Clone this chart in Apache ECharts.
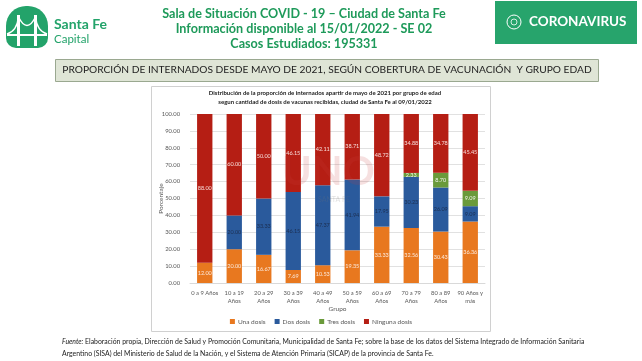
<!DOCTYPE html>
<html><head><meta charset="utf-8">
<script src="https://cdn.jsdelivr.net/npm/echarts@6/dist/echarts.min.js"></script>
<style>html,body{margin:0;padding:0;background:#fff}#c{width:642px;height:361px}</style>
</head><body><div id="c"></div>
<script>
const categories = ['0 a 9 Años','10 a 19\nAños','20 a 29\nAños','30 a 39\nAños','40 a 49\nAños','50 a 59\nAños','60 a 69\nAños','70 a 79\nAños','80 a 89\nAños','90 Años y\nmás'];
const unaDosis = [12.00,20.00,16.67,7.69,10.53,19.35,33.33,32.56,30.43,36.36];
const dosDosis = [0,20.00,33.33,46.15,47.37,41.94,17.95,30.23,26.09,9.09];
const tresDosis = [0,0,0,0,0,0,0,2.33,8.70,9.09];
const ningunaDosis = [88.00,60.00,50.00,46.15,42.11,38.71,48.72,34.88,34.78,45.45];
const seriesNames = ['Una dosis','Dos dosis','Tres dosis','Ninguna dosis'];
const yTicks = [0,10,20,30,40,50,60,70,80,90,100];

const green = '#23a36a';
const F = 'Lato, "Open Sans", sans-serif';
const chart = echarts.init(document.getElementById('c'));
const lbl = (color) => ({show:true, position:'inside', fontSize:5.5, fontFamily:F, color:color,
  formatter: p => p.value ? p.value.toFixed(2) : ''});
const colors = ['#e8781f','#2a5a9c','#6a9a3a','#b51e14'];
const datas = [unaDosis,dosDosis,tresDosis,ningunaDosis];
const labelColors = ['#fbe9dc','#1c2f52','#f3f7ee','#f6dcd9'];

chart.setOption({
  animation:false,
  title:{text:'Distribución de la proporción de internados apartir de mayo de 2021 por grupo de edad\nsegun cantidad de dosis de vacunas recibidas, ciudad de Santa Fe al 09/01/2022',
    left:320, top:84, textAlign:'center',
    textStyle:{fontSize:6, fontWeight:'bold', fontFamily:F, color:'#222', lineHeight:9}},
  grid:{left:190, right:157, top:114, bottom:78},
  legend:{data:seriesNames, bottom:31, left:'center', itemWidth:5, itemHeight:5, itemGap:9, icon:'rect',
    textStyle:{fontSize:6.5, fontFamily:F, color:'#595959', padding:[0,0,0,-2]}},
  xAxis:{type:'category', data:categories, name:'Grupo', nameLocation:'middle', nameGap:22,
    nameTextStyle:{fontSize:6.5, fontFamily:F, color:'#595959'},
    axisLine:{lineStyle:{color:'#d9d9d9'}}, axisTick:{show:false},
    axisLabel:{fontSize:5.8, fontFamily:F, color:'#595959', lineHeight:8, interval:0, margin:6}},
  yAxis:{type:'value', min:0, max:100, interval:10, name:'Porcentaje', nameLocation:'middle', nameGap:26, nameMoveOverlap:false,
    nameTextStyle:{fontSize:6.5, fontFamily:F, color:'#595959'},
    splitLine:{lineStyle:{color:'#d9d9d9', width:0.8}}, axisLine:{show:false},
    axisLabel:{fontSize:5.8, fontFamily:F, color:'#595959', formatter:v=>v.toFixed(2), margin:10}},
  series: seriesNames.map((n,i)=>({name:n, type:'bar', stack:'t', data:datas[i], barWidth:'52%',
    itemStyle:{color:colors[i]}, label:lbl(labelColors[i])})),
  graphic:[
    {type:'rect', z:-1, shape:{x:151.5,y:86.5,width:339,height:245}, style:{fill:'#fff', stroke:'#d0d0d0', lineWidth:1}},
    {type:'text', z:5, x:282, y:152, style:{text:'UNO', font:'bold 40px '+F, fill:'rgba(200,60,60,0.16)'}},
    {type:'text', z:5, x:318, y:196, style:{text:'SANTA FE', font:'7px '+F, fill:'rgba(120,120,120,0.22)'}},
    // header logo
    {type:'rect', shape:{x:6,y:6,width:42,height:42,r:[20,20,10,10]}, style:{fill:green}},
    {type:'rect', shape:{x:17,y:15,width:3,height:31}, style:{fill:'#fff'}},
    {type:'rect', shape:{x:34,y:15,width:3,height:31}, style:{fill:'#fff'}},
    {type:'bezierCurve', shape:{x1:18.5,y1:17,x2:35.5,y2:17,cpx1:27,cpy1:34}, style:{stroke:'#fff', fill:null, lineWidth:1.5}},
    {type:'bezierCurve', shape:{x1:7,y1:34,x2:18.5,y2:17,cpx1:17,cpy1:31}, style:{stroke:'#fff', fill:null, lineWidth:1.5}},
    {type:'bezierCurve', shape:{x1:35.5,y1:17,x2:47,y2:34,cpx1:37,cpy1:31}, style:{stroke:'#fff', fill:null, lineWidth:1.5}},
    {type:'rect', shape:{x:7,y:34,width:40,height:2}, style:{fill:'#fff'}},
    {type:'text', x:54, y:17, style:{text:'Santa Fe', font:'bold 14px '+F, fill:green}},
    {type:'text', x:54, y:33, style:{text:'Capital', font:'11.5px '+F, fill:green}},
    // header title
    {type:'text', x:304, y:6, style:{text:'Sala de Situación COVID - 19 – Ciudad de Santa Fe\nInformación disponible al 15/01/2022 - SE 02\nCasos Estudiados: 195331',
      font:'bold 12.6px '+F, fill:'#1e9a5a', align:'center', lineHeight:15}},
    // coronavirus badge
    {type:'rect', shape:{x:495,y:1,width:142,height:43}, style:{fill:'#27a46c'}},
    {type:'circle', shape:{cx:514,cy:22,r:7}, style:{fill:null, stroke:'#fff', lineWidth:1}},
    {type:'circle', shape:{cx:514,cy:22,r:3}, style:{fill:null, stroke:'#fff', lineWidth:0.8}},
    {type:'text', x:529, y:15, style:{text:'CORONAVIRUS', font:'bold 13.5px '+F, fill:'#fff'}},
    // section bar
    {type:'rect', shape:{x:55.5,y:59.5,width:543,height:22}, style:{fill:'#dfe5d6', stroke:'#9aa890', lineWidth:1}},
    {type:'text', x:327, y:64.5, style:{text:'PROPORCIÓN DE INTERNADOS DESDE MAYO DE 2021, SEGÚN COBERTURA DE VACUNACIÓN  Y GRUPO EDAD',
      font:'10.2px '+F, fill:'#222', align:'center'}},
    // footnote
    {type:'text', x:62, y:336, style:{
      text:'{i|Fuente:} Elaboración propia, Dirección de Salud y Promoción Comunitaria, Municipalidad de Santa Fe; sobre la base de los datos del Sistema Integrado de Información Sanitaria\nArgentino (SISA) del Ministerio de Salud de la Nación, y el Sistema de Atención Primaria (SICAP) de la provincia de Santa Fe.',
      font:'6.9px '+F, fill:'#222', lineHeight:12,
      rich:{i:{fontStyle:'italic', fontSize:6.9, fontFamily:F, fill:'#222'}}}}
  ]
});
</script></body></html>
